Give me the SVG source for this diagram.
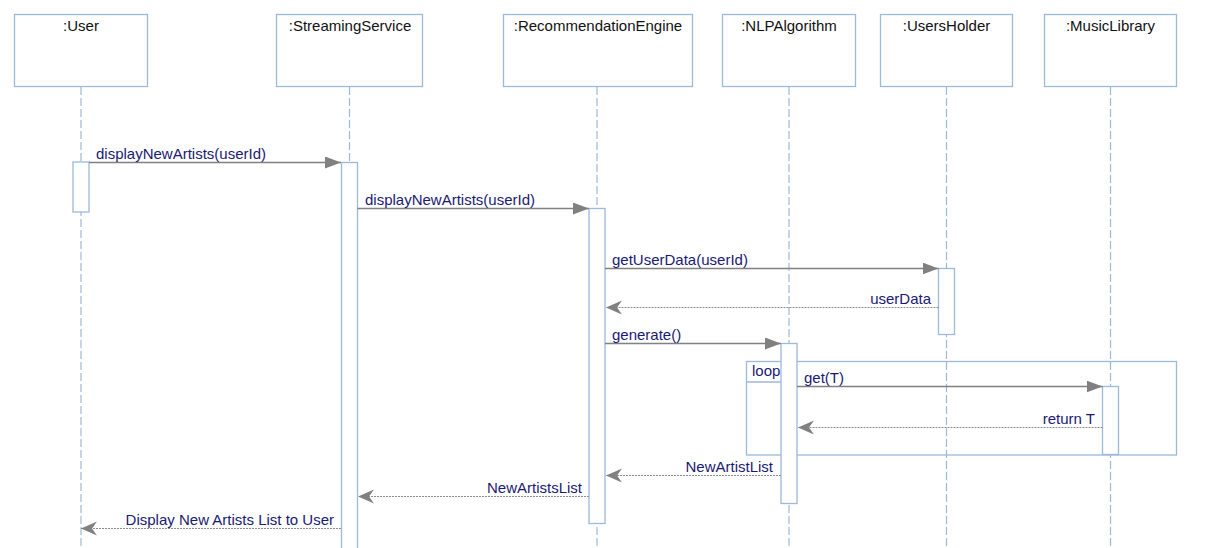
<svg xmlns="http://www.w3.org/2000/svg" width="1230" height="548" viewBox="0 0 1230 548">
  <defs>
    <style>
      .head { fill: #ffffff; stroke: #9db9d9; stroke-width: 1.3; }
      .head-label { font-family: "Liberation Sans", Arial, sans-serif; font-size: 15px; fill: #111111; text-anchor: middle; }
      .lifeline { stroke: #9db9d9; stroke-width: 1.2; stroke-dasharray: 8 3; fill: none; }
      .act { fill: #ffffff; stroke: #9db9d9; stroke-width: 1.3; }
      .call { stroke: #808080; stroke-width: 1.3; fill: none; }
      .reply { stroke: #8c8c8c; stroke-width: 1; stroke-dasharray: 2 1; fill: none; }
      .msg { font-family: "Liberation Sans", Arial, sans-serif; font-size: 15px; fill: #1a1a72; }
      .msg-end { text-anchor: end; }
      .frame { fill: none; stroke: #9db9d9; stroke-width: 1.3; }
    </style>
    <marker id="solid" markerUnits="userSpaceOnUse" markerWidth="17" markerHeight="12" refX="16" refY="6" orient="auto">
      <path d="M0,0 L16,6 L0,12 Z" fill="#808080"/>
    </marker>
    <marker id="open" markerUnits="userSpaceOnUse" markerWidth="18" markerHeight="16" refX="16" refY="7" orient="auto">
      <path d="M0,0 L16,7 L0,14 L5,7 Z" fill="#808080"/>
    </marker>
  </defs>

  <rect width="1230" height="548" fill="#ffffff"/>

  <!-- lifelines -->
  <g id="lifelines">
    <line class="lifeline" x1="81" y1="87" x2="81" y2="548"/>
    <line class="lifeline" x1="349.5" y1="87" x2="349.5" y2="548"/>
    <line class="lifeline" x1="597" y1="87" x2="597" y2="548"/>
    <line class="lifeline" x1="789" y1="87" x2="789" y2="548"/>
    <line class="lifeline" x1="946.5" y1="87" x2="946.5" y2="548"/>
    <line class="lifeline" x1="1110.5" y1="87" x2="1110.5" y2="548"/>
  </g>

  <!-- participants -->
  <g id="user">
    <rect class="head" x="14.5" y="14.5" width="133" height="72"/>
    <text class="head-label" x="81" y="31">:User</text>
    <rect class="act" x="73" y="162" width="16" height="50"/>
  </g>
  <g id="streaming-service">
    <rect class="head" x="276.5" y="14.5" width="146" height="72"/>
    <text class="head-label" x="350" y="31">:StreamingService</text>
    <rect class="act" x="341.5" y="162.5" width="16" height="400"/>
  </g>
  <g id="recommendation-engine">
    <rect class="head" x="503.5" y="14.5" width="189" height="72"/>
    <text class="head-label" x="598" y="31">:RecommendationEngine</text>
    <rect class="act" x="589" y="208.5" width="16" height="315"/>
  </g>
  <g id="users-holder">
    <rect class="head" x="880.5" y="14.5" width="132" height="72"/>
    <text class="head-label" x="946.5" y="31">:UsersHolder</text>
    <rect class="act" x="938.5" y="268.5" width="16" height="66"/>
  </g>

  <!-- loop fragment -->
  <g id="loop-fragment">
    <rect class="frame" x="746.5" y="361.5" width="430" height="93.5"/>
    <path class="frame" d="M746.5,382 H782"/>
    <text class="msg" x="752" y="376">loop</text>
  </g>

  <g id="nlp-algorithm">
    <rect class="head" x="722.5" y="14.5" width="133" height="72"/>
    <text class="head-label" x="789" y="31">:NLPAlgorithm</text>
    <rect class="act" x="781" y="343.5" width="16" height="160"/>
  </g>
  <g id="music-library">
    <rect class="head" x="1044.5" y="14.5" width="132" height="72"/>
    <text class="head-label" x="1110.5" y="31">:MusicLibrary</text>
    <rect class="act" x="1102.5" y="386.5" width="16" height="68"/>
  </g>

  <!-- messages -->
  <g id="connectors">
    <line class="call" x1="89" y1="162.5" x2="341" y2="162.5" marker-end="url(#solid)"/>
    <text class="msg" x="96" y="159">displayNewArtists(userId)</text>

    <line class="call" x1="357.5" y1="208.5" x2="589" y2="208.5" marker-end="url(#solid)"/>
    <text class="msg" x="365" y="205">displayNewArtists(userId)</text>

    <line class="call" x1="605" y1="268.5" x2="938.5" y2="268.5" marker-end="url(#solid)"/>
    <text class="msg" x="612" y="265">getUserData(userId)</text>

    <line class="reply" x1="938.5" y1="307.5" x2="606" y2="307.5" marker-end="url(#open)"/>
    <text class="msg msg-end" x="931" y="304">userData</text>

    <line class="call" x1="605" y1="343.5" x2="781" y2="343.5" marker-end="url(#solid)"/>
    <text class="msg" x="612" y="340">generate()</text>

    <line class="call" x1="797" y1="386.5" x2="1102.5" y2="386.5" marker-end="url(#solid)"/>
    <text class="msg" x="804" y="383">get(T)</text>

    <line class="reply" x1="1102.5" y1="427.5" x2="798" y2="427.5" marker-end="url(#open)"/>
    <text class="msg msg-end" x="1095" y="424">return T</text>

    <line class="reply" x1="781" y1="475.5" x2="606" y2="475.5" marker-end="url(#open)"/>
    <text class="msg msg-end" x="773" y="472">NewArtistList</text>

    <line class="reply" x1="589" y1="496.5" x2="358" y2="496.5" marker-end="url(#open)"/>
    <text class="msg msg-end" x="582" y="493">NewArtistsList</text>

    <line class="reply" x1="341" y1="528.5" x2="81" y2="528.5" marker-end="url(#open)"/>
    <text class="msg msg-end" x="334" y="525">Display New Artists List to User</text>
  </g>
</svg>
